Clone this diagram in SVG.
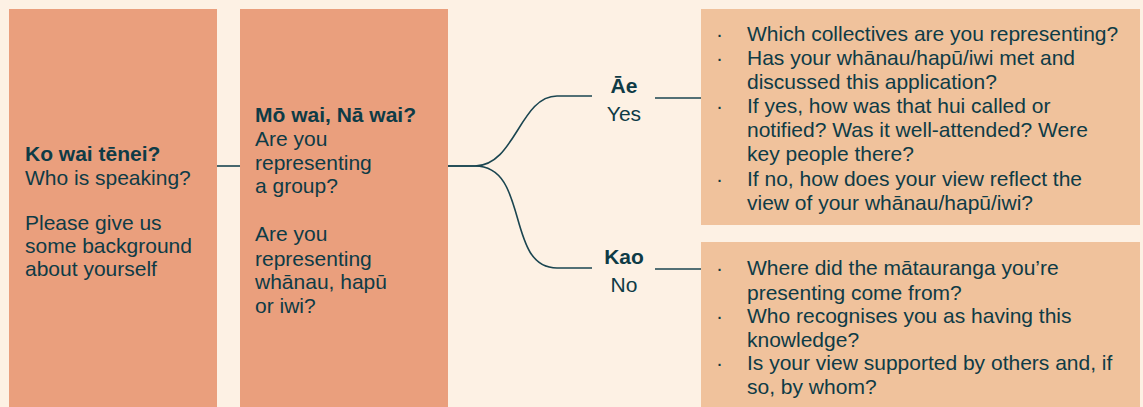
<svg xmlns="http://www.w3.org/2000/svg" width="1143" height="407" viewBox="0 0 1143 407">
<style>
.t{font-family:"Liberation Sans",Arial,sans-serif;font-size:21px;fill:#0E3B46}
.b{font-weight:bold}
.c{text-anchor:middle}
.q{fill:#EA9F7D}
.a{fill:#F0C29C}
.ln{fill:none;stroke:#1A4550;stroke-width:1.6}
</style>
<rect width="1143" height="407" fill="#FDF1E4"/>
<g id="connectors">
<line class="ln" x1="217" y1="166" x2="240" y2="166"/>
<path class="ln" d="M448 166 H475 C515 166 520 96 557 96 H592"/>
<path class="ln" d="M448 166 H475 C530 166 505 268 557 268 H592"/>
<line class="ln" x1="655" y1="98" x2="701" y2="98"/>
<line class="ln" x1="655" y1="269" x2="701" y2="269"/>
</g>
<g id="node-ko-wai">
<rect class="q" x="9" y="9" width="208" height="398"/>
<text class="t" x="25"><tspan class="b" y="161">Ko wai tēnei?</tspan><tspan x="25" y="185">Who is speaking?</tspan><tspan x="25" y="230">Please give us</tspan><tspan x="25" y="253">some background</tspan><tspan x="25" y="276">about yourself</tspan></text>
</g>
<g id="node-mo-wai">
<rect class="q" x="240" y="9" width="208" height="398"/>
<text class="t" x="255"><tspan class="b" y="122">Mō wai, Nā wai?</tspan><tspan x="255" y="146">Are you</tspan><tspan x="255" y="170">representing</tspan><tspan x="255" y="193">a group?</tspan><tspan x="255" y="241">Are you</tspan><tspan x="255" y="266">representing</tspan><tspan x="255" y="289">whānau, hapū</tspan><tspan x="255" y="313">or iwi?</tspan></text>
</g>
<g id="label-ae">
<text class="t c" x="624"><tspan class="b" y="93">Āe</tspan><tspan x="624" y="121">Yes</tspan></text>
</g>
<g id="label-kao">
<text class="t c" x="624"><tspan class="b" y="264">Kao</tspan><tspan x="624" y="292">No</tspan></text>
</g>
<g id="node-yes">
<rect class="a" x="701" y="9" width="439" height="216"/>
<text class="t"><tspan x="716" y="41">·</tspan><tspan x="716" y="65">·</tspan><tspan x="716" y="113">·</tspan><tspan x="716" y="186">·</tspan></text>
<text class="t" x="747"><tspan y="41">Which collectives are you representing?</tspan><tspan x="747" y="65">Has your whānau/hapū/iwi met and</tspan><tspan x="747" y="89">discussed this application?</tspan><tspan x="747" y="113">If yes, how was that hui called or</tspan><tspan x="747" y="137">notified? Was it well-attended? Were</tspan><tspan x="747" y="161">key people there?</tspan><tspan x="747" y="186">If no, how does your view reflect the</tspan><tspan x="747" y="210">view of your whānau/hapū/iwi?</tspan></text>
</g>
<g id="node-no">
<rect class="a" x="701" y="242" width="439" height="165"/>
<text class="t"><tspan x="716" y="275">·</tspan><tspan x="716" y="323">·</tspan><tspan x="716" y="370">·</tspan></text>
<text class="t" x="747"><tspan y="275">Where did the mātauranga you’re</tspan><tspan x="747" y="300">presenting come from?</tspan><tspan x="747" y="323">Who recognises you as having this</tspan><tspan x="747" y="347">knowledge?</tspan><tspan x="747" y="370">Is your view supported by others and, if</tspan><tspan x="747" y="394">so, by whom?</tspan></text>
</g>
</svg>
